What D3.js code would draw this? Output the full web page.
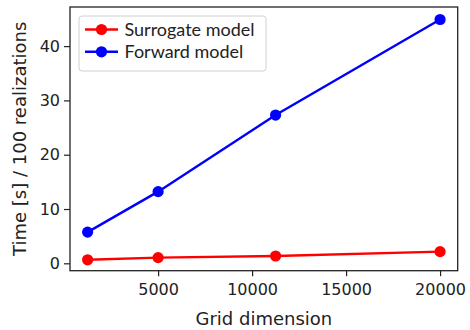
<!DOCTYPE html>
<html><head><meta charset="utf-8">
<script src="https://cdn.jsdelivr.net/npm/d3@7"></script>
<style>body{margin:0;background:#fff}svg{display:block}</style>
</head><body>
<script>
const gridDims = [1250, 5000, 11250, 20000];
const surrogateTimes = [0.65, 1.05, 1.35, 2.15];
const forwardTimes = [5.75, 13.2, 27.3, 44.9];
const xTicks = [5000, 10000, 15000, 20000];
const yTicks = [0, 10, 20, 30, 40];
const seriesNames = ["Surrogate model", "Forward model"];
const seriesColors = ["#ff0000", "#0000ff"];

const W = 470, H = 330;
const m = {l: 70, t: 7, r: 12.3, b: 59.3};
const svg = d3.select("body").append("svg").attr("width", W).attr("height", H);
const x = d3.scaleLinear().domain([312.5, 20937.5]).range([m.l, W - m.r]);
const y = d3.scaleLinear().domain([-1.36, 47.2]).range([H - m.b, m.t]);
const font = "DejaVu Sans";
const txt = "#222";

// axes
const xa = svg.append("g").attr("transform", `translate(0,${H - m.b})`)
  .call(d3.axisBottom(x).tickValues(xTicks).tickSize(5.5).tickPadding(7.5).tickFormat(d3.format("d")));
const ya = svg.append("g").attr("transform", `translate(${m.l},0)`)
  .call(d3.axisLeft(y).tickValues(yTicks).tickSize(6).tickPadding(4).tickFormat(d3.format("d")));
[xa, ya].forEach(a => {
  a.select(".domain").remove();
  a.selectAll("line").attr("stroke", "#222").attr("stroke-width", 1.2);
  a.selectAll("text").attr("font-family", font).attr("font-size", 16).attr("fill", txt);
});
// frame
svg.append("rect").attr("x", m.l).attr("y", m.t)
  .attr("width", W - m.l - m.r).attr("height", H - m.t - m.b)
  .attr("fill", "none").attr("stroke", "#222").attr("stroke-width", 1.3);

// series
const all = [surrogateTimes, forwardTimes];
const line = d3.line().x((d, i) => x(gridDims[i])).y(d => y(d));
all.forEach((vals, k) => {
  svg.append("path").datum(vals).attr("d", line).attr("fill", "none")
    .attr("stroke", seriesColors[k]).attr("stroke-width", 2.4);
  svg.selectAll(null).data(vals).enter().append("circle")
    .attr("cx", (d, i) => x(gridDims[i])).attr("cy", d => y(d)).attr("r", 5.6)
    .attr("fill", seriesColors[k]);
});

// axis labels
svg.append("text").attr("x", (m.l + W - m.r) / 2).attr("y", 325)
  .attr("text-anchor", "middle").attr("font-family", font).attr("font-size", 18)
  .attr("fill", txt).text("Grid dimension");
svg.append("text").attr("transform", `translate(26,${(m.t + H - m.b) / 2}) rotate(-90)`)
  .attr("text-anchor", "middle").attr("font-family", font).attr("font-size", 18)
  .attr("fill", txt).text("Time [s] / 100 realizations");

// legend
const lg = svg.append("g");
lg.append("rect").attr("x", 79).attr("y", 16).attr("width", 187).attr("height", 55)
  .attr("rx", 3).attr("fill", "#fff").attr("fill-opacity", 0.8)
  .attr("stroke", "#d0d0d0").attr("stroke-width", 1);
const lt = [];
seriesNames.forEach((n, k) => {
  const yy = 29.5 + k * 22.3;
  lg.append("line").attr("x1", 85).attr("x2", 118).attr("y1", yy).attr("y2", yy)
    .attr("stroke", seriesColors[k]).attr("stroke-width", 2.4);
  lg.append("circle").attr("cx", 101.5).attr("cy", yy).attr("r", 5.6).attr("fill", seriesColors[k]);
  lt.push(lg.append("text").attr("x", 124.5).attr("y", yy).attr("dy", "0.36em")
    .attr("font-family", "Lato").attr("font-size", 17).attr("fill", txt).text(n));
});
// fit legend font so first entry spans ~130px like the reference
const w0 = lt[0].node().getComputedTextLength();
const fs = 17 * 130 / w0;
lt.forEach(t => t.attr("font-size", fs));
</script>
</body></html>
